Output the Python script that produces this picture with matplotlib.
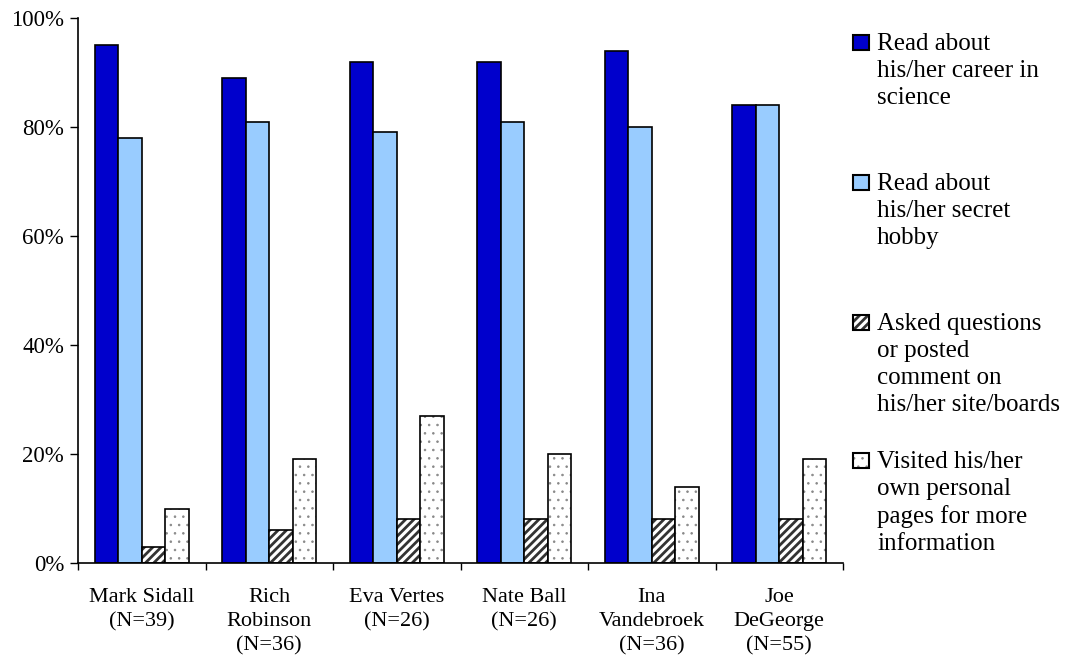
import numpy as np
import matplotlib.pyplot as plt
from matplotlib.patches import Rectangle
from matplotlib.ticker import FuncFormatter

plt.rcParams['font.family'] = ['Liberation Serif', 'DejaVu Serif']

# 数据
people = ['Mark Sidall\n(N=39)', 'Rich\nRobinson\n(N=36)', 'Eva Vertes\n(N=26)',
          'Nate Ball\n(N=26)', 'Ina\nVandebroek\n(N=36)', 'Joe\nDeGeorge\n(N=55)']
career = [95, 89, 92, 92, 94, 84]
hobby = [78, 81, 79, 81, 80, 84]
asked = [3, 6, 8, 8, 8, 8]
visited = [10, 19, 27, 20, 14, 19]
labels = ['Read about\nhis/her career in\nscience',
          'Read about\nhis/her secret\nhobby',
          'Asked questions\nor posted\ncomment on\nhis/her site/boards',
          'Visited his/her\nown personal\npages for more\ninformation']

W, H = 1065, 656
fig = plt.figure(figsize=(W / 100, H / 100), dpi=100)
ax = fig.add_axes([78 / W, 1 - 563 / H, (843 - 78) / W, (563 - 18) / H])

x = np.arange(len(people))
w = 0.184
styles = [dict(color='#0000CC', hatch=None, hcol='black', hlw=1.0),
          dict(color='#99CCFF', hatch=None, hcol='black', hlw=1.0),
          dict(color='white', hatch='////', hcol='#333333', hlw=2.0),
          dict(color='white', hatch='..', hcol='#888888', hlw=0.6)]
series = [career, hobby, asked, visited]
for i, (vals, st) in enumerate(zip(series, styles)):
    plt.rcParams['hatch.linewidth'] = st['hlw']
    ax.bar(x + (i - 1.5) * w, vals, w, color=st['color'],
           edgecolor=st['hcol'], hatch=st['hatch'], linewidth=0)
    # 黑色外框
    ax.bar(x + (i - 1.5) * w, vals, w, fill=False, edgecolor='black', linewidth=1.2)

ax.set_xlim(-0.5, len(people) - 0.5)
ax.set_ylim(0, 100)
ax.set_yticks(range(0, 101, 20))
ax.yaxis.set_major_formatter(FuncFormatter(lambda v, p: '%d%%' % v))
ax.set_xticks(x)
ax.set_xticklabels(people, fontsize=16, linespacing=1.36)
ax.set_xticks(np.arange(-0.5, len(people), 1), minor=True)
ax.tick_params(axis='x', which='major', length=0, pad=18)
ax.tick_params(axis='x', which='minor', length=5, width=1)
ax.tick_params(axis='y', length=6, width=1, labelsize=16.5, pad=4)
for s in ['top', 'right']:
    ax.spines[s].set_visible(False)
for s in ['left', 'bottom']:
    ax.spines[s].set_linewidth(1.2)

# 图例（手动放置）
tops = [33, 173, 313, 451]
for st, lab, t in zip(styles, labels, tops):
    plt.rcParams['hatch.linewidth'] = st['hlw']
    xy = (853 / W, 1 - (t + 17) / H)
    rect = Rectangle(xy, 16 / W, 15 / H, transform=fig.transFigure,
                     facecolor=st['color'], edgecolor=st['hcol'], hatch=st['hatch'], linewidth=0)
    fig.add_artist(rect)
    fig.add_artist(Rectangle(xy, 16 / W, 15 / H, transform=fig.transFigure,
                             fill=False, edgecolor='black', linewidth=1.5))
    fig.text(877 / W, 1 - t / H, lab, fontsize=18, va='top', ha='left', linespacing=1.29)

fig.savefig('out.png', dpi=100, facecolor='white')
